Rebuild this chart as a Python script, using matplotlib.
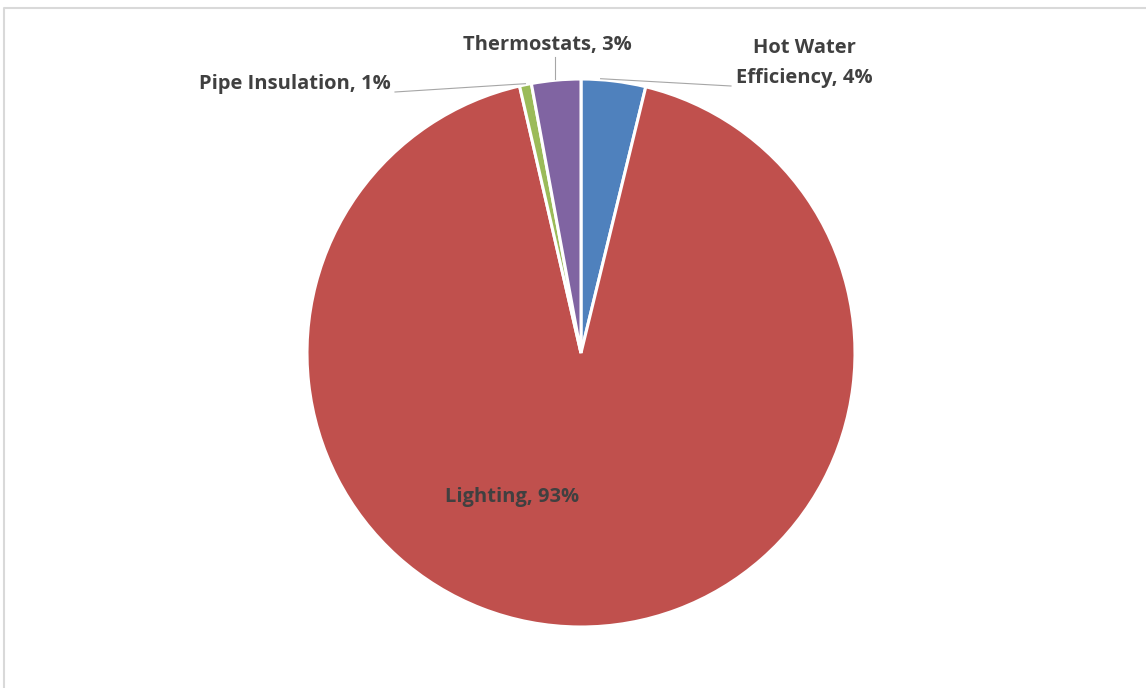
import matplotlib

matplotlib.use('Agg')

import matplotlib.pyplot as plt
import numpy as np

categorias = ['Hot Water\nEfficiency', 'Lighting', 'Pipe Insulation', 'Thermostats']
valores = [3.8, 92.6, 0.7, 2.9]
cores = ['#4F81BD', '#C0504D', '#9BBB59', '#8064A2']

W, H = 1146, 688
fig = plt.figure(figsize=(W / 100, H / 100), dpi=100)
ax = fig.add_axes([0, 0, 1, 1])

# borda do grafico
ax.plot([3.5, 3.5, W], [0, H - 7.5, H - 7.5], color='#D9D9D9', lw=1.5)

cx, cy, r = 581, H - 353, 274
wedges, _ = ax.pie(valores, colors=cores, startangle=90, counterclock=False,
                   center=(cx, cy), radius=r, frame=True,
                   wedgeprops=dict(edgecolor='white', linewidth=2.2))
ax.set_xlim(0, W)
ax.set_ylim(0, H)
ax.set_aspect('equal')
ax.axis('off')

fonte = dict(family=['Open Sans', 'DejaVu Sans'], fontsize=14.5,
             fontweight='bold', color='#404040')
textos = [f'{c}, {round(v)}%' for c, v in zip(categorias, valores)]

def borda(w, frac=0.5):
    ang = np.deg2rad(w.theta1 + (w.theta2 - w.theta1) * frac)
    return cx + r * np.cos(ang), cy + r * np.sin(ang)

# Hot Water
x0, y0 = borda(wedges[0], 0.7)
ax.plot([x0, 731], [y0 + 1, H - 86], color='#A6A6A6', lw=0.8)
ax.text(804, H - 63, textos[0], ha='center', va='center', linespacing=1.65, **fonte)

# Lighting
ax.text(512, H - 497, textos[1], ha='center', va='center', **fonte)

# Pipe Insulation
x0, y0 = borda(wedges[2])
ax.plot([x0, 395], [y0 + 1, H - 92], color='#A6A6A6', lw=0.8)
ax.text(295, H - 84, textos[2], ha='center', va='center', **fonte)

# Thermostats
x0, y0 = borda(wedges[3])
ax.plot([555, 555], [y0 + 1, H - 57], color='#A6A6A6', lw=0.8)
ax.text(547, H - 45, textos[3], ha='center', va='center', **fonte)

plt.savefig('out.png', dpi=100)
